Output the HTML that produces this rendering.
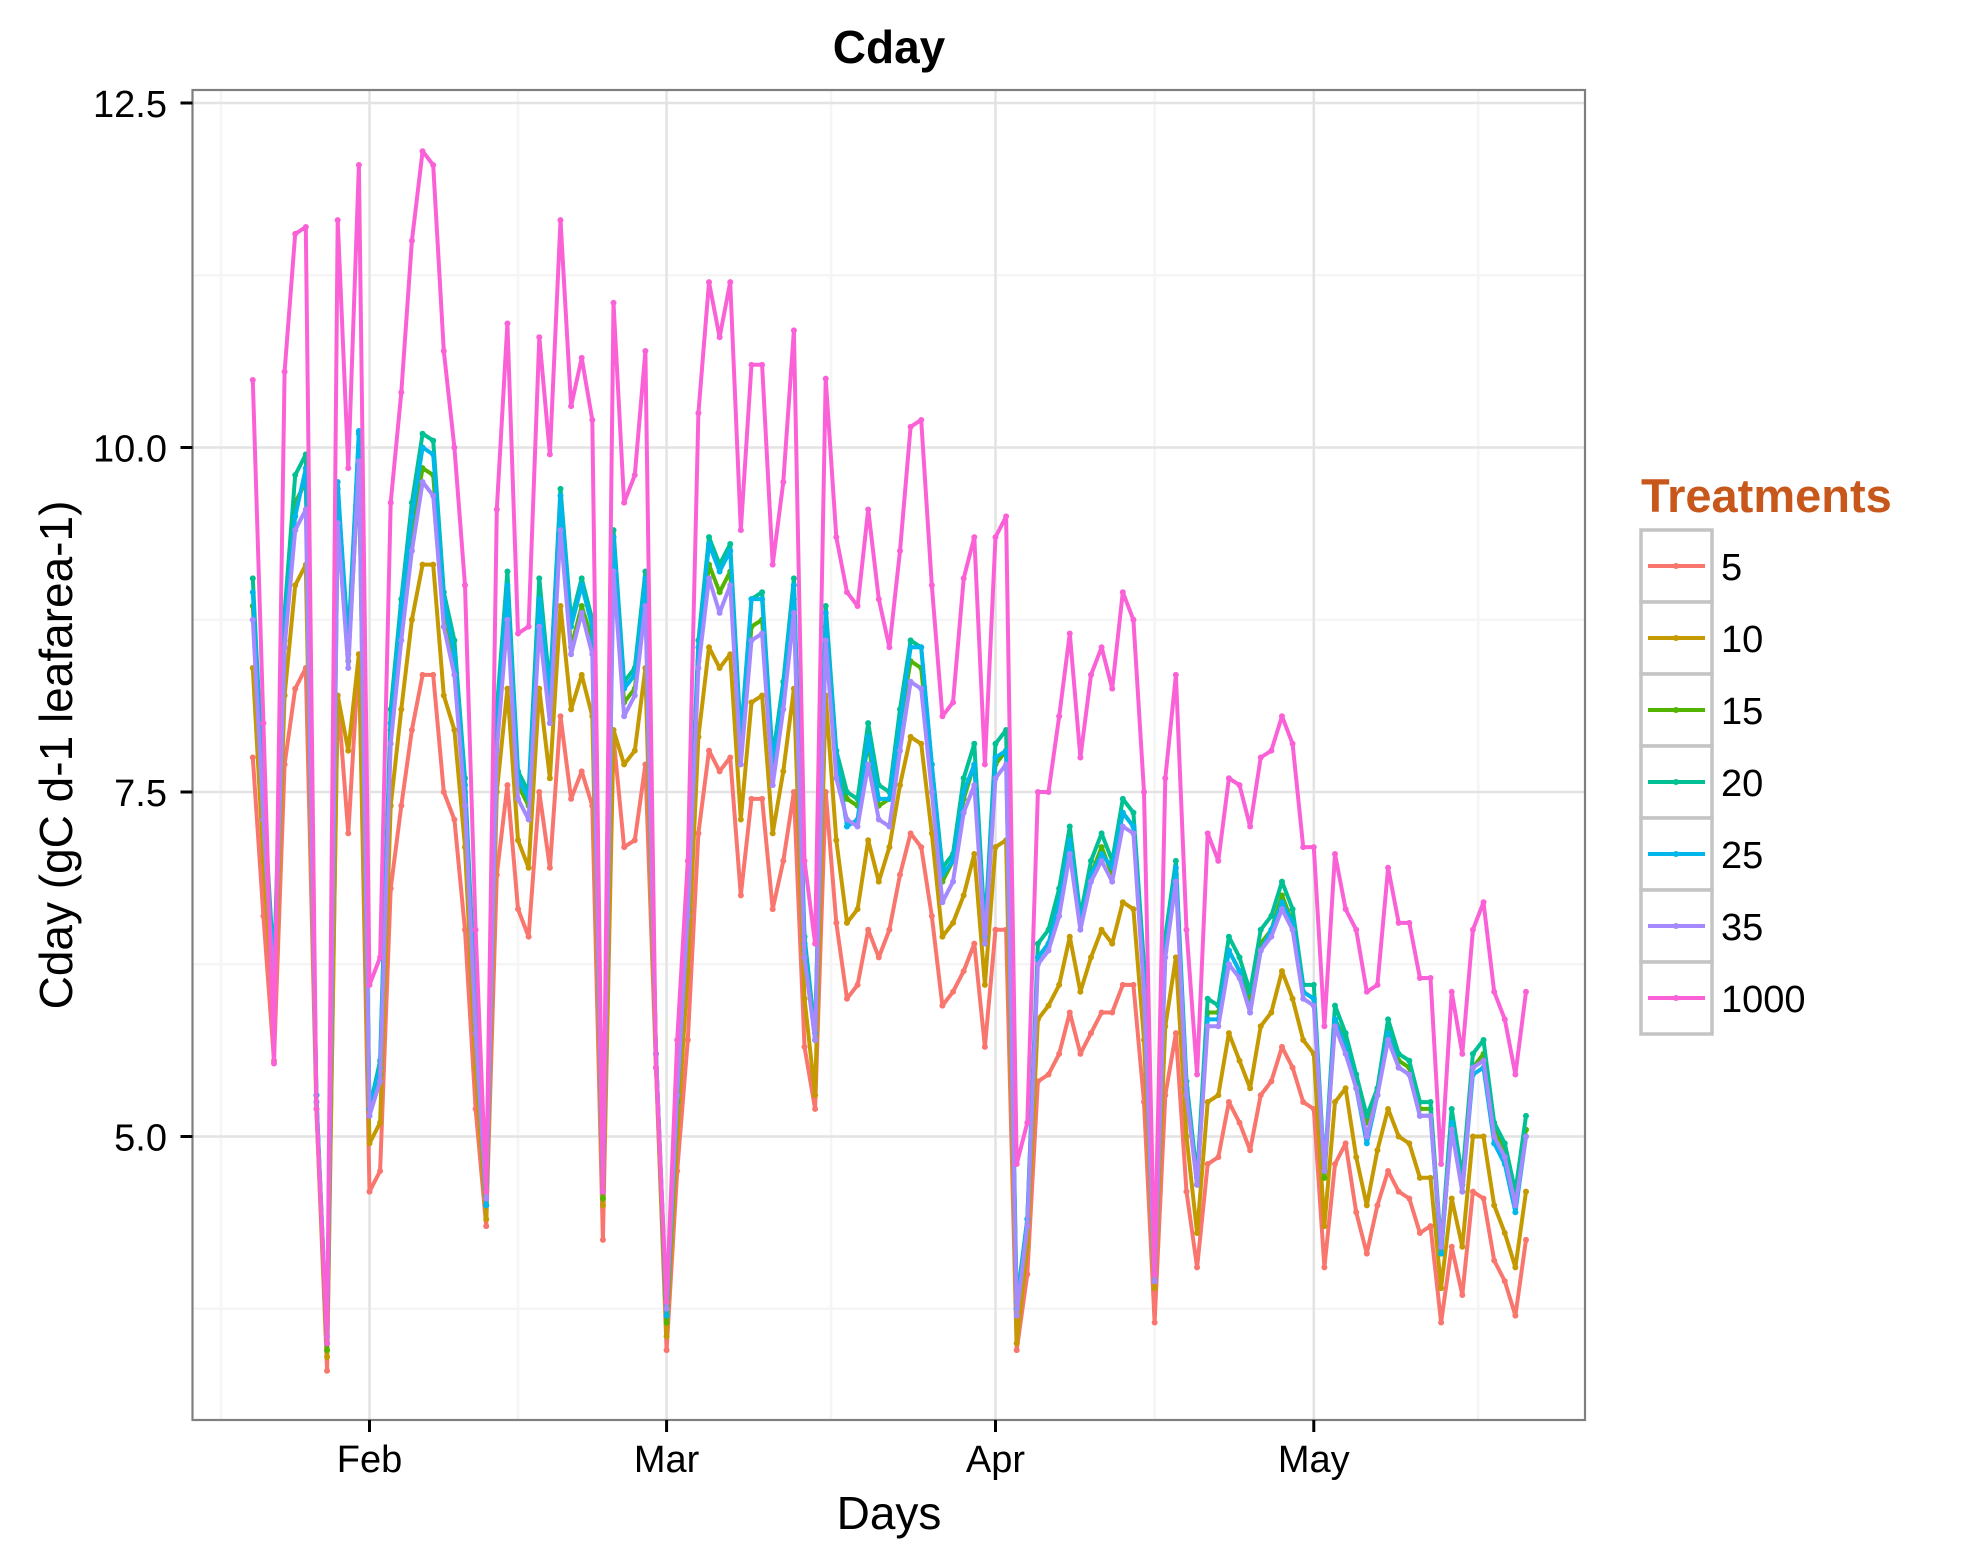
<!DOCTYPE html>
<html><head><meta charset="utf-8"><style>
html,body{margin:0;padding:0;background:#fff;}
svg{display:block;font-family:"Liberation Sans",Arial,sans-serif;}
</style></head><body>
<svg id="chart" width="1987" height="1562" viewBox="0 0 1987 1562" xmlns="http://www.w3.org/2000/svg">
<rect x="0" y="0" width="1987" height="1562" fill="#fff"/>
<text x="889" y="63" text-anchor="middle" font-size="46" font-weight="bold">Cday</text>
<text x="889" y="1529" text-anchor="middle" font-size="46">Days</text>
<text transform="translate(72,755) rotate(-90)" text-anchor="middle" font-size="46">Cday (gC d-1 leafarea-1)</text>
<g id="grid"></g>
<g id="series"></g>
<g id="axes"></g>
<g id="legend"></g>
</svg>
<script>
const treatments = ["5","10","15","20","25","35","1000"];
const colors = ["#F8766D","#C49A00","#53B400","#00C094","#00B6EB","#A58AFF","#FB61D7"];
const yTicks = [5.0, 7.5, 10.0, 12.5];
const yTickLabels = ["5.0","7.5","10.0","12.5"];
const yMinor = [3.75, 6.25, 8.75, 11.25];
const monthOffsets = [0, 28, 59, 89];
const monthLabels = ["Feb","Mar","Apr","May"];
const monthMinor = [-14, 14, 43.5, 74, 104.5];
const startOffset = -11;
const s5 = [7.75,6.6,5.55,7.7,8.25,8.4,5.2,3.3,8.2,7.2,
8.5,4.6,4.75,6.8,7.4,7.95,8.35,8.35,7.5,7.3,
6.5,5.2,4.35,6.9,7.55,6.65,6.45,7.5,6.95,8.05,
7.45,7.65,7.4,4.25,7.9,7.1,7.15,7.7,5.5,3.45,
4.75,5.7,7.2,7.8,7.65,7.75,6.75,7.45,7.45,6.65,
7.0,7.5,5.65,5.2,7.5,6.55,6.0,6.1,6.5,6.3,
6.5,6.9,7.2,7.1,6.6,5.95,6.05,6.2,6.4,5.65,
6.5,6.5,3.45,4.0,5.4,5.45,5.6,5.9,5.6,5.75,
5.9,5.9,6.1,6.1,5.25,3.65,5.3,5.75,4.6,4.05,
4.8,4.85,5.25,5.1,4.9,5.3,5.4,5.65,5.5,5.25,
5.2,4.05,4.8,4.95,4.45,4.15,4.5,4.75,4.6,4.55,
4.3,4.35,3.65,4.2,3.85,4.6,4.55,4.1,3.95,3.7,
4.25];
const s10 = [8.4,7.0,5.9,8.2,9.0,9.15,5.2,3.4,8.2,7.8,
8.5,4.95,5.1,7.4,8.1,8.75,9.15,9.15,8.2,7.95,
7.1,5.5,4.4,7.5,8.25,7.15,6.95,8.25,7.6,8.85,
8.1,8.35,8.05,4.5,7.95,7.7,7.8,8.4,5.5,3.55,
5.0,6.2,7.9,8.55,8.4,8.5,7.3,8.15,8.2,7.2,
7.65,8.25,6.0,5.3,8.2,7.15,6.55,6.65,7.15,6.85,
7.1,7.55,7.9,7.85,7.2,6.45,6.55,6.75,7.05,6.1,
7.1,7.15,3.5,4.2,5.85,5.95,6.1,6.45,6.05,6.3,
6.5,6.4,6.7,6.65,5.7,3.9,5.8,6.3,5.0,4.3,
5.25,5.3,5.75,5.55,5.35,5.8,5.9,6.2,6.0,5.7,
5.6,4.35,5.25,5.35,4.85,4.5,4.9,5.2,5.0,4.95,
4.7,4.7,3.9,4.55,4.2,5.0,5.0,4.5,4.3,4.05,
4.6];
const s15 = [8.85,7.4,6.1,8.6,9.6,9.75,5.25,3.45,9.45,8.45,
9.85,5.15,5.45,7.95,8.75,9.4,9.85,9.8,8.8,8.45,
7.5,5.8,4.5,7.95,8.9,7.55,7.4,8.85,8.1,9.45,
8.55,8.85,8.6,4.55,9.2,8.15,8.25,8.95,5.6,3.65,
5.25,6.6,8.45,9.15,8.95,9.1,7.8,8.7,8.75,7.65,
8.15,8.9,6.35,5.7,8.7,7.7,7.45,7.4,7.85,7.4,
7.45,8.0,8.45,8.4,7.6,6.85,7.0,7.45,7.7,6.45,
7.7,7.8,3.75,4.35,6.3,6.4,6.7,7.15,6.55,6.9,
7.1,6.9,7.35,7.25,6.15,3.95,6.35,6.9,5.35,4.65,
5.9,5.9,6.35,6.2,6.0,6.4,6.5,6.75,6.55,6.05,
6.0,4.7,5.85,5.7,5.4,5.1,5.3,5.8,5.55,5.5,
5.2,5.2,4.15,5.1,4.65,5.5,5.6,5.05,4.9,4.55,
5.05];
const s20 = [9.05,7.5,6.2,8.8,9.8,9.95,5.3,3.5,9.7,8.6,
10.1,5.2,5.55,8.1,8.9,9.6,10.1,10.05,8.95,8.6,
7.6,5.9,4.5,8.1,9.1,7.65,7.5,9.05,8.25,9.7,
8.75,9.05,8.75,4.6,9.4,8.3,8.4,9.1,5.6,3.7,
5.3,6.7,8.6,9.35,9.15,9.3,7.9,8.9,8.95,7.75,
8.3,9.05,6.45,5.75,8.85,7.8,7.5,7.45,8.0,7.55,
7.5,8.1,8.6,8.55,7.7,6.95,7.05,7.6,7.85,6.5,
7.85,7.95,3.8,4.4,6.4,6.5,6.8,7.25,6.6,7.0,
7.2,7.0,7.45,7.35,6.25,4.0,6.45,7.0,5.4,4.7,
6.0,5.95,6.45,6.3,6.05,6.5,6.6,6.85,6.65,6.1,
6.1,4.75,5.95,5.75,5.45,5.15,5.35,5.85,5.6,5.55,
5.25,5.25,4.2,5.2,4.7,5.6,5.7,5.1,4.95,4.6,
5.15];
const s25 = [8.95,7.45,6.15,8.75,9.5,9.85,5.3,3.5,9.75,8.5,
10.12,5.2,5.5,8.0,8.85,9.5,10.0,9.95,8.9,8.5,
7.55,5.85,4.5,8.0,9.0,7.6,7.45,8.9,8.2,9.65,
8.7,9.0,8.7,4.6,9.35,8.25,8.35,9.05,5.6,3.7,
5.3,6.65,8.55,9.3,9.1,9.25,7.85,8.9,8.9,7.7,
8.25,9.0,6.4,5.7,8.8,7.75,7.25,7.3,7.9,7.45,
7.45,8.0,8.55,8.55,7.7,6.9,7.0,7.5,7.7,6.45,
7.75,7.8,3.75,4.4,6.3,6.4,6.7,7.15,6.55,6.9,
7.05,6.95,7.35,7.25,6.15,3.95,6.35,6.95,5.35,4.65,
5.85,5.85,6.35,6.2,5.9,6.35,6.5,6.7,6.55,6.05,
6.0,4.75,5.85,5.65,5.35,4.95,5.3,5.75,5.5,5.45,
5.15,5.15,4.15,5.1,4.6,5.45,5.5,4.95,4.8,4.45,
5.0];
const s35 = [8.75,7.3,6.05,8.55,9.4,9.55,5.25,3.55,9.45,8.4,
9.9,5.15,5.4,7.85,8.6,9.25,9.75,9.65,8.7,8.35,
7.4,5.75,4.55,7.8,8.75,7.45,7.3,8.7,8.0,9.4,
8.5,8.8,8.5,4.6,9.1,8.05,8.2,8.85,5.6,3.75,
5.3,6.6,8.4,9.05,8.8,9.0,7.7,8.6,8.65,7.55,
8.1,8.8,6.3,5.7,8.6,7.6,7.3,7.25,7.7,7.3,
7.25,7.8,8.3,8.25,7.5,6.7,6.85,7.35,7.55,6.4,
7.6,7.7,3.7,4.35,6.25,6.35,6.6,7.05,6.5,6.85,
7.0,6.85,7.25,7.2,6.05,3.95,6.3,6.85,5.3,4.65,
5.8,5.8,6.25,6.15,5.9,6.35,6.45,6.65,6.5,6.0,
5.95,4.75,5.8,5.6,5.35,5.0,5.3,5.7,5.5,5.45,
5.15,5.15,4.2,5.05,4.6,5.5,5.55,5.0,4.85,4.5,
5.0];
const s1000 = [10.49,8.0,5.53,10.55,11.55,11.6,5.2,3.5,11.65,9.85,
12.05,6.1,6.3,9.6,10.4,11.5,12.15,12.05,10.7,10.0,
9.0,6.5,4.6,9.55,10.9,8.65,8.7,10.8,9.95,11.65,
10.3,10.65,10.2,4.6,11.05,9.6,9.8,10.7,5.5,3.8,
5.7,7.0,10.25,11.2,10.8,11.2,9.4,10.6,10.6,9.15,
9.75,10.85,7.0,6.4,10.5,9.35,8.95,8.85,9.55,8.9,
8.55,9.25,10.15,10.2,9.0,8.05,8.15,9.05,9.35,7.7,
9.35,9.5,4.8,5.1,7.5,7.5,8.05,8.65,7.75,8.35,
8.55,8.25,8.95,8.75,7.5,4.0,7.6,8.35,6.5,5.45,
7.2,7.0,7.6,7.55,7.25,7.75,7.8,8.05,7.85,7.1,
7.1,5.8,7.05,6.65,6.5,6.05,6.1,6.95,6.55,6.55,
6.15,6.15,4.8,6.05,5.6,6.5,6.7,6.05,5.85,5.45,
6.05];
const seriesData = [s5,s10,s15,s20,s25,s35,s1000];

const NS = "http://www.w3.org/2000/svg";
const P = {l:192.5, r:1585, t:90, b:1420};
function xScale(off){ return 369.5 + off*10.61; }
function yScale(v){ return 447.5 - (v-10)*137.8; }
function mk(tag, attrs, parent){
  const e = document.createElementNS(NS, tag);
  for (const k in attrs) e.setAttribute(k, attrs[k]);
  parent.appendChild(e); return e;
}
const grid = document.getElementById('grid');
const bg = mk('rect',{x:P.l,y:P.t,width:P.r-P.l,height:P.b-P.t,fill:'#fff'},grid);


yMinor.forEach(v=>{
  const ln = mk('line',{x1:P.l,x2:P.r,y1:yScale(v),y2:yScale(v),stroke:'#f5f5f5','stroke-width':2.5},grid);
  
  
});
monthMinor.forEach(o=>{
  const ln = mk('line',{x1:xScale(o),x2:xScale(o),y1:P.t,y2:P.b,stroke:'#f5f5f5','stroke-width':2.5},grid);
  
  
});
yTicks.forEach(v=>{
  const ln = mk('line',{x1:P.l,x2:P.r,y1:yScale(v),y2:yScale(v),stroke:'#e3e3e3','stroke-width':2.5},grid);
  
  
});
monthOffsets.forEach(o=>{
  const ln = mk('line',{x1:xScale(o),x2:xScale(o),y1:P.t,y2:P.b,stroke:'#e3e3e3','stroke-width':2.5},grid);
  
  
});

const sg = document.getElementById('series');
seriesData.forEach((arr,i)=>{
  const g = mk('g',{},sg);
  
  
  const pts = arr.map((v,d)=>xScale(startOffset+d).toFixed(1)+','+yScale(v).toFixed(1)).join(' ');
  const pl = mk('polyline',{points:pts,fill:'none',stroke:colors[i],'stroke-width':4,'stroke-linejoin':'round'},g);
  
  
  arr.forEach((v,d)=>{
    const c = mk('circle',{cx:xScale(startOffset+d),cy:yScale(v),r:3,fill:colors[i]},g);
    
    
  });
});

const ax = document.getElementById('axes');
const border = mk('rect',{x:P.l,y:P.t,width:P.r-P.l,height:P.b-P.t,fill:'none',stroke:'#7f7f7f','stroke-width':2.2},ax);


yTicks.forEach((v,i)=>{
  const t = mk('line',{x1:P.l-12,x2:P.l,y1:yScale(v),y2:yScale(v),stroke:'#000','stroke-width':3},ax);
  
  
  const tx = mk('text',{x:167,y:yScale(v)+14,'text-anchor':'end','font-size':38},ax);
  tx.textContent = yTickLabels[i];
  
  
});
monthOffsets.forEach((o,i)=>{
  const t = mk('line',{x1:xScale(o),x2:xScale(o),y1:P.b,y2:P.b+12,stroke:'#000','stroke-width':3},ax);
  
  
  const tx = mk('text',{x:xScale(o),y:1472,'text-anchor':'middle','font-size':38},ax);
  tx.textContent = monthLabels[i];
  
  
});

const lg = document.getElementById('legend');
const lt = mk('text',{x:1641,y:512,'font-size':47,'font-weight':'bold',fill:'#C8571B'},lg);
lt.textContent = 'Treatments';


treatments.forEach((t,i)=>{
  const y0 = 530 + i*72;
  const g = mk('g',{},lg);
  
  
  const box = mk('rect',{x:1641,y:y0,width:71,height:72,fill:'#fff',stroke:'#c4c4c4','stroke-width':3.5},g);
  
  
  const ln = mk('line',{x1:1648,x2:1705,y1:y0+36,y2:y0+36,stroke:colors[i],'stroke-width':4},g);
  
  
  const dot = mk('circle',{cx:1676,cy:y0+36,r:3,fill:colors[i]},g);
  
  
  const tx = mk('text',{x:1721,y:y0+50,'font-size':38},g);
  tx.textContent = t;
  
  
});
</script>
</body></html>
